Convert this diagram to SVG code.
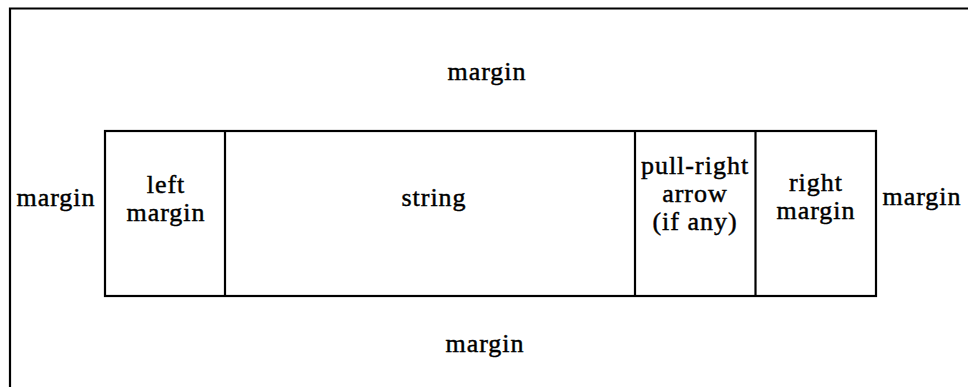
<svg xmlns="http://www.w3.org/2000/svg" width="969" height="387" viewBox="0 0 969 387">
<style>
text{font-family:"Liberation Serif","Times New Roman",serif;font-size:26px;letter-spacing:1px;fill:#000;stroke:#000;stroke-width:0.45;text-anchor:middle}
.ln{fill:none;stroke:#000;stroke-width:2.2}
</style>
<rect width="969" height="387" fill="#fff"/>
<g id="frame">
<path class="ln" d="M10,387 V8.5 H968" stroke-width="2.6"/>
</g>
<g id="top-margin"><text x="487" y="80">margin</text></g>
<g id="bottom-margin"><text x="485" y="352">margin</text></g>
<g id="outer-left-margin"><text x="56" y="206">margin</text></g>
<g id="outer-right-margin"><text x="922" y="205">margin</text></g>
<g id="box">
<rect class="ln" x="105" y="131" width="771" height="165"/>
<line class="ln" x1="225" y1="131" x2="225" y2="296"/>
<line class="ln" x1="635" y1="131" x2="635" y2="296"/>
<line class="ln" x1="755.5" y1="131" x2="755.5" y2="296"/>
</g>
<g id="left-margin"><text x="166" y="193">left</text><text x="166" y="221">margin</text></g>
<g id="string"><text x="434" y="206">string</text></g>
<g id="pull-right-arrow"><text x="695" y="174">pull-right</text><text x="695" y="202">arrow</text><text x="695" y="230">(if any)</text></g>
<g id="right-margin"><text x="816" y="191">right</text><text x="816" y="219">margin</text></g>
</svg>
